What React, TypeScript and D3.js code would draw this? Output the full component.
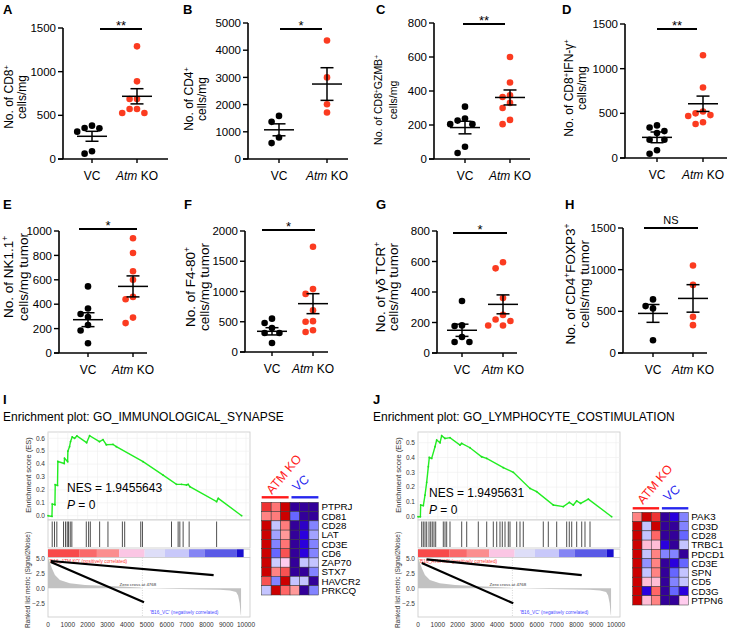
import React from "react";
import * as d3 from "d3";

const FONT = "'Liberation Sans', Arial, Helvetica, sans-serif";
const W = 736, H = 636;

const categories = ["VC", "Atm KO"];

// ---- scatter data (cells/mg) ----
const vcA = [382, 355, 351, 313, 88, 61];
const koA = [1290, 889, 687, 687, 572, 572, 527, 527];
const meanA = [260, 718];
const semA = [57, 87];

const vcB = [1585, 1366, 793, 585];
const koB = [4354, 3000, 2012, 1707];
const meanB = [1073, 2756];
const semB = [220, 600];

const vcC = [308, 238, 226, 205, 205, 72, 35];
const koC = [600, 450, 375, 365, 330, 300, 230, 205];
const meanC = [185, 362];
const semC = [37, 44];

const vcD = [365, 342, 301, 279, 205, 205, 86, 48];
const koD = [1150, 790, 520, 500, 480, 470, 400, 380];
const meanD = [231, 607];
const semD = [60, 86];

const vcE = [546, 365, 320, 295, 230, 185, 80];
const koE = [940, 820, 670, 600, 460, 440, 290, 245];
const meanE = [273, 546];
const semE = [57, 86];

const vcF = [551, 479, 397, 314, 314, 149];
const koF = [1740, 1040, 960, 690, 510, 500, 360, 330];
const meanF = [342, 799];
const semF = [60, 165];

const vcG = [341, 181, 177, 105, 72, 72];
const koG = [595, 555, 360, 250, 220, 210, 180, 180];
const meanG = [149, 319];
const semG = [40, 62];

const vcH = [643, 563, 535, 153];
const koH = [1050, 817, 434, 334];
const meanH = [475, 655];
const semH = [107, 165];

// ---- GSEA data ----
const esI = [[0,0],[200,-0.005],[215,0.09],[350,0.085],[365,0.24],[480,0.235],[498,0.42],[820,0.405],[835,0.445],[990,0.42],[1004,0.5],[1088,0.535],[1139,0.575],[1224,0.61],[1342,0.6],[1460,0.618],[1950,0.566],[2101,0.62],[2600,0.574],[2776,0.59],[2945,0.55],[3283,0.553],[3451,0.535],[4802,0.419],[5814,0.315],[6490,0.243],[6743,0.243],[6996,0.238],[7080,0.243],[7165,0.225],[8515,0.109],[8600,0.134],[9780,0]];
const hitsI = [213,329,446,785,886,972,1038,1124,1205,1934,2051,2137,2608,3028,3757,3873,4684,4770,6238,6572,6658,6825,7129,8516];
const metricI = [[0,5.0],[60,4.6],[200,3.3],[350,2.2],[600,1.4],[1100,0.83],[1870,0.55],[3130,0.38],[4650,0.12],[4768,0],[6670,-0.12],[8690,-0.25],[9190,-0.35],[9500,-0.6],[9600,-1.2],[9680,-2.5],[9730,-4.3],[9750,-4.6]];
const blackLinesI = [[[140,4.55],[8365,2.2]],[[140,4.4],[4850,-2.33]]];

const esJ = [[0,0],[120,0.0],[135,0.079],[269,0.075],[354,0.146],[438,0.232],[522,0.338],[572,0.40],[690,0.394],[859,0.473],[943,0.518],[1111,0.5],[1195,0.547],[1364,0.529],[1616,0.534],[2121,0.484],[2205,0.495],[2626,0.466],[3215,0.405],[3468,0.394],[4310,0.331],[4815,0.30],[5657,0.191],[5993,0.169],[6835,0.079],[7340,0.068],[7643,0.097],[7845,0.079],[8013,0.106],[8215,0.09],[8603,0.119],[9781,0]];
const hitsJ = [187,268,354,439,556,641,722,808,894,1278,1364,1449,1616,2207,2460,3045,3470,3803,3975,4141,4258,4394,4561,4646,4985,5152,5318,6328,6581,7005,7510,7641,7763,8015,8268,8434,8687];
const metricJ = [[0,5.0],[60,4.6],[200,3.3],[350,2.2],[600,1.4],[1100,0.85],[1870,0.55],[3130,0.36],[4650,0.1],[4768,0],[6670,-0.12],[8690,-0.25],[9190,-0.35],[9500,-0.6],[9600,-1.2],[9680,-2.5],[9730,-4.3],[9750,-4.6]];
const blackLinesJ = [[[430,4.82],[8270,2.2]],[[190,4.2],[4810,-2.5]]];

const colorbarStops = [0,1600,2470,3590,4880,5910,7120,7900,9540,9880];
const colorbarColors = ["#f84a4a","#fa6a6a","#fb8e8e","#fbc6e4","#dedef8","#c8c8fa","#8585f4","#5a5ae6","#1a10cf"];

// ---- heatmap data ----
const genesI = ["PTPRJ","CD81","CD28","LAT","CD3E","CD6","ZAP70","STX7","HAVCR2","PRKCQ"];
const heatI = [
  [2.3,1.6,3,-3,-3,-3],
  [1.4,1.5,3,-1.7,-3,-3],
  [3,-0.5,1.5,-3,-2.6,-1.3],
  [3,-0.9,1.1,-3,-2.4,-0.9],
  [3,-1.3,1.6,-3,-2.4,-1.3],
  [3,-1.7,2,-3,-2.4,-1.3],
  [3,-0.4,0.4,-3,-0.5,-0.5],
  [3,1.4,2,-3,-3,-1.3],
  [2,-1.3,3,-0.5,-0.5,-3],
  [-0.5,3,1.8,1.1,-3,-1.3],
];
const genesJ = ["PAK3","CD3D","CD28","TRBC1","PDCD1","CD3E","SPN","CD5","CD3G","PTPN6"];
const heatJ = [
  [1.4,3,2.3,-3,-2.4,-1.3],
  [3,-0.5,3,-3,-3,-1.3],
  [3,-0.5,1.8,-3,-3,-1.7],
  [3,0.6,0.6,-2.4,-3,-0.5],
  [3,-0.5,1.4,-1.3,-1.3,-3],
  [3,-1.1,1.4,-3,-2.4,-1.7],
  [3,-0.5,1.4,-3,-1.7,-0.5],
  [3,0.6,0.6,-3,-1.3,-0.5],
  [3,-2.4,1.8,-3,-1.7,-2.4],
  [3,0.6,1.4,-3,-3,0.4],
];

const heatColor = d3.scaleLinear<string>()
  .domain([-3,-2.4,-1.7,-1,-0.4,0.4,1.1,1.8,2.3,3])
  .range(["#330099","#2a00dd","#6666ff","#9999ff","#ccccff","#ffccee","#ff9999","#ff6666","#ee3333","#cc0000"])
  .clamp(true);

// ---- layout ----
const panels = [
  { id:"A", vc:vcA, ko:koA, mean:meanA, sem:semA, max:1500, step:500, ax:63, top:28, bot:159, cx:[92,137], xEnd:168, sig:[100,142,29], sigText:"**", letter:[3,13.5], t1:"No. of CD8^+", t2:"cells/mg", tx:[8.5,22], ty:97, tfs:12 },
  { id:"B", vc:vcB, ko:koB, mean:meanB, sem:semB, max:5000, step:1000, ax:248, top:23, bot:159, cx:[279,327], xEnd:348, sig:[280,322,29], sigText:"*", letter:[183,13.5], t1:"No. of CD4^+", t2:"cells/mg", tx:[188.5,202], ty:99, tfs:12 },
  { id:"C", vc:vcC, ko:koC, mean:meanC, sem:semC, max:800, step:200, ax:434, top:23, bot:159, cx:[465,510], xEnd:530, sig:[463,505,24], sigText:"**", letter:[376,13.5], t1:"No. of CD8^+^GZMB^+", t2:"cells/mg", tx:[378.5,393], ty:100, tfs:10.5 },
  { id:"D", vc:vcD, ko:koD, mean:meanD, sem:semD, max:1500, step:500, ax:625, top:24, bot:158, cx:[657,703], xEnd:727, sig:[657,697,29], sigText:"**", letter:[562,13.5], t1:"No. of CD8^+^IFN-γ^+", t2:"cells/mg", tx:[568.5,582], ty:88, tfs:12 },
  { id:"E", vc:vcE, ko:koE, mean:meanE, sem:semE, max:1000, step:200, ax:59, top:231, bot:353, cx:[88,133], xEnd:147, sig:[79,137,229], sigText:"*", letter:[3,208.5], t1:"No. of NK1.1^+", t2:"cells/mg tumor", tx:[8.5,23], ty:277, tfs:13.5 },
  { id:"F", vc:vcF, ko:koF, mean:meanF, sem:semF, max:2000, step:500, ax:245, top:231, bot:352, cx:[272,313], xEnd:328, sig:[262,315,230], sigText:"*", letter:[184,208.5], t1:"No. of F4-80^+", t2:"cells/mg tumor", tx:[190,204], ty:287, tfs:13.5 },
  { id:"G", vc:vcG, ko:koG, mean:meanG, sem:semG, max:800, step:200, ax:437, top:231, bot:353, cx:[462,503], xEnd:517, sig:[453,507,233], sigText:"*", letter:[376,208.5], t1:"No. of γδ TCR^+", t2:"cells/mg tumor", tx:[380,393.5], ty:287, tfs:13.5 },
  { id:"H", vc:vcH, ko:koH, mean:meanH, sem:semH, max:1500, step:500, ax:623, top:228, bot:353, cx:[653,693], xEnd:707, sig:[644,698,228], sigText:"NS", letter:[565,208.5], t1:"No. of CD4^+^FOXP3^+", t2:"cells/mg tumor", tx:[570,584], ty:284, tfs:13.5 },
];

const gseas = [
  { id:"I", ox:48, es:esI, hits:hitsI, metric:metricI, lines:blackLinesI, esTickMax:0.6, esZero:515.7, esTickPx:438.3, nes:"NES = 1.9455643",
    title:"Enrichment plot: GO_IMMUNOLOGICAL_SYNAPSE", tX:3, nesX:67, nesY:492, posLabel:"'B16_ATM KO' (positively correlated)" },
  { id:"J", ox:418, es:esJ, hits:hitsJ, metric:metricJ, lines:blackLinesJ, esTickMax:0.5, esZero:516.7, esTickPx:442.7, nes:"NES = 1.9495631",
    title:"Enrichment plot: GO_LYMPHOCYTE_COSTIMULATION", tX:373, nesX:429, nesY:497, posLabel:"'B16_ATM KO' (positively correlated)" },
];

const heatmaps = [
  { genes:genesI, data:heatI, x0:261.7, y0:502.3, cw:9.45, ch:9.27, lineY:497.3, koText:[272,495], vcText:[297,492] },
  { genes:genesJ, data:heatJ, x0:632.7, y0:512.3, cw:9.27, ch:9.27, lineY:508.3, koText:[643,505], vcText:[668,502] },
];

function richText(s: string, fs: number) {
  const parts = s.split("^");
  return parts.map((p, i) =>
    i % 2 === 1 ? (
      <tspan key={i} fontSize={fs * 0.62} baselineShift="super">{p}</tspan>
    ) : (
      <tspan key={i}>{p}</tspan>
    )
  );
}

function swarm(vals: number[], cx: number, y: (v: number) => number, r: number) {
  const d = 2 * r + 0.8;
  const placed: [number, number][] = [];
  const out: [number, number][] = [];
  vals.forEach((v) => {
    const py = y(v);
    for (let k = 0; k < 30; k++) {
      const off = k === 0 ? 0 : (k % 2 ? -1 : 1) * Math.ceil(k / 2) * d;
      const px = cx + off;
      if (placed.every((p) => Math.hypot(p[0] - px, p[1] - py) >= d)) {
        placed.push([px, py]);
        out.push([px, py]);
        break;
      }
    }
  });
  return out;
}

function ScatterPanel({ p }: any) {
  const y = d3.scaleLinear().domain([0, p.max]).range([p.bot, p.top]);
  const x = d3.scalePoint<string>().domain(categories).range(p.cx);
  const ticks = d3.range(0, p.max + 1, p.step);
  const r = 3.3;
  const groups = [p.vc, p.ko];
  const cols = ["#000000", "#fb3b20"];
  return (
    <g fontFamily={FONT}>
      <text x={p.letter[0]} y={p.letter[1]} fontWeight="bold" fontSize={13}>{p.id}</text>
      <line x1={p.ax} x2={p.ax} y1={p.top} y2={p.bot} stroke="#000" strokeWidth={1.6} />
      <line x1={p.ax - 5} x2={p.xEnd} y1={p.bot} y2={p.bot} stroke="#000" strokeWidth={1.6} />
      {ticks.map((t: number) => (
        <g key={t}>
          <line x1={p.ax - 5} x2={p.ax} y1={y(t)} y2={y(t)} stroke="#000" strokeWidth={1.4} />
          <text x={p.ax - 7} y={y(t)} dy="0.36em" textAnchor="end" fontSize={11.5}>{t}</text>
        </g>
      ))}
      {categories.map((c, i) => (
        <g key={c}>
          <line x1={x(c)} x2={x(c)} y1={p.bot} y2={p.bot + 4} stroke="#000" strokeWidth={1.4} />
          <text x={x(c)} y={p.bot + 20.5} textAnchor="middle" fontSize={12}>
            {i === 0 ? "VC" : (<><tspan fontStyle="italic">Atm</tspan> KO</>)}
          </text>
        </g>
      ))}
      <g transform={`translate(${p.tx[0]},${p.ty}) rotate(-90)`}>
        <text textAnchor="middle" dy="0.35em" fontSize={p.tfs}>{richText(p.t1, p.tfs)}</text>
      </g>
      <g transform={`translate(${p.tx[1]},${p.ty}) rotate(-90)`}>
        <text textAnchor="middle" dy="0.35em" fontSize={p.tfs}>{richText(p.t2, p.tfs)}</text>
      </g>
      <line x1={p.sig[0]} x2={p.sig[1]} y1={p.sig[2]} y2={p.sig[2]} stroke="#000" strokeWidth={1.8} />
      <text x={(p.sig[0] + p.sig[1]) / 2} y={p.sig[2] - (p.sigText === "NS" ? 4.5 : -1)} textAnchor="middle" fontSize={p.sigText === "NS" ? 11 : 13}>{p.sigText}</text>
      {groups.map((g: number[], gi: number) => {
        const cx = x(categories[gi]) as number;
        const pts = swarm(g, cx, y, r);
        const m = p.mean[gi], s = p.sem[gi];
        return (
          <g key={gi}>
            {pts.map((pt, k) => (
              <circle key={k} cx={pt[0]} cy={pt[1]} r={r} fill={cols[gi]} />
            ))}
            <line x1={cx - 15} x2={cx + 15} y1={y(m)} y2={y(m)} stroke="#000" strokeWidth={1.5} />
            <line x1={cx} x2={cx} y1={y(m + s)} y2={y(m - s)} stroke="#000" strokeWidth={1.5} />
            <line x1={cx - 6.5} x2={cx + 6.5} y1={y(m + s)} y2={y(m + s)} stroke="#000" strokeWidth={1.5} />
            <line x1={cx - 6.5} x2={cx + 6.5} y1={y(m - s)} y2={y(m - s)} stroke="#000" strokeWidth={1.5} />
          </g>
        );
      })}
    </g>
  );
}

function GseaPanel({ g }: any) {
  const ox = g.ox;
  const L = ox, R = ox + 202;
  const x = d3.scaleLinear().domain([0, 10000]).range([ox, ox + 198]);
  const esY = d3.scaleLinear().domain([0, g.esTickMax]).range([g.esZero, g.esTickPx]);
  const T0 = 432, T1 = 520, H1 = 548, C0 = 549.3, C1 = 557.5, B1 = 617;
  const mY = d3.scaleLinear().domain([0, 5]).range([588.3, 558.3]);
  const esLine = d3.line<number[]>().x((d) => x(d[0])).y((d) => esY(d[1]));
  const area = d3.area<number[]>().x((d) => x(d[0])).y0(mY(0)).y1((d) => mY(d[1]));
  const esTicks = d3.range(0, g.esTickMax + 0.001, 0.1);
  const xTicks = d3.range(0, 10001, 1000);
  const gridX = d3.range(0, 10001, 500);
  const fmt = d3.format(".1f");
  return (
    <g fontFamily={FONT}>
      <text x={g.tX} y={404} fontWeight="bold" fontSize={13}>{g.id}</text>
      <text x={g.tX} y={421} fontSize={12}>{g.title}</text>
      {/* ES panel */}
      <rect x={L} y={T0} width={R - L} height={T1 - T0} fill="#fff" stroke="#c9c9c9" strokeWidth={0.8} />
      {gridX.map((t) => (
        <line key={"gx" + t} x1={x(t)} x2={x(t)} y1={T0} y2={T1} stroke="#eeeeee" strokeWidth={0.6} />
      ))}
      {esTicks.map((t) => (
        <line key={"gy" + t} x1={L} x2={R} y1={esY(t)} y2={esY(t)} stroke="#eeeeee" strokeWidth={0.6} />
      ))}
      {esTicks.map((t) => (
        <text key={"et" + t} x={L - 3} y={esY(t)} dy="0.35em" textAnchor="end" fontSize={6.5} fill="#333">{fmt(t)}</text>
      ))}
      <path d={esLine(g.es) || ""} fill="none" stroke="#22ee22" strokeWidth={1.4} />
      {g.es.map((d: number[], i: number) => (
        <circle key={"ep" + i} cx={x(d[0])} cy={esY(d[1])} r={0.9} fill="#22dd22" />
      ))}
      <text x={g.nesX} y={g.nesY} fontSize={12}>{g.nes}</text>
      <text x={g.nesX} y={g.nesY + 17} fontSize={12}><tspan fontStyle="italic">P</tspan> = 0</text>
      {/* hits */}
      <rect x={L} y={T1} width={R - L} height={H1 - T1} fill="#fff" stroke="#c9c9c9" strokeWidth={0.8} />
      {g.hits.map((h: number, i: number) => (
        <line key={"h" + i} x1={x(h)} x2={x(h)} y1={T1 + 1.5} y2={H1 - 1} stroke="#222" strokeWidth={0.8} />
      ))}
      {/* colorbar */}
      <rect x={L} y={C0} width={R - L} height={C1 - C0} fill="#fff" stroke="#c9c9c9" strokeWidth={0.6} />
      {colorbarColors.map((c, i) => (
        <rect key={"cb" + i} x={x(colorbarStops[i])} y={C0} width={x(colorbarStops[i + 1]) - x(colorbarStops[i])} height={C1 - C0} fill={c} />
      ))}
      {/* ranked list */}
      <rect x={L} y={C1} width={R - L} height={B1 - C1} fill="#fff" stroke="#c9c9c9" strokeWidth={0.8} />
      <path d={area(g.metric) || ""} fill="#c2c2c2" />
      <line x1={x(4768)} x2={x(4768)} y1={C1} y2={B1} stroke="#bbb" strokeWidth={0.6} strokeDasharray="1,1.5" />
      {[5, 2.5, 0, -2.5].map((t) => (
        <text key={"mt" + t} x={L - 3} y={mY(t)} dy="0.35em" textAnchor="end" fontSize={6.5} fill="#333">{fmt(t)}</text>
      ))}
      <text x={x(60)} y={562.5} fontSize={4.8} fill="#ff3b3b">{g.posLabel}</text>
      <text x={x(4768) - 4.5} y={586} fontSize={4.4} textAnchor="middle" fill="#333">Zero cross at 4768</text>
      <text x={x(5150)} y={613.5} fontSize={4.8} fill="#4b4bff">'B16_VC' (negatively correlated)</text>
      {g.lines.map((ln: number[][], i: number) => (
        <line key={"bl" + i} x1={x(ln[0][0])} y1={mY(ln[0][1])} x2={x(ln[1][0])} y2={mY(ln[1][1])} stroke="#000" strokeWidth={2.2} />
      ))}
      {xTicks.map((t) => (
        <text key={"xt" + t} x={x(t)} y={626.5} textAnchor="middle" fontSize={6.5} fill="#333">{t}</text>
      ))}
      <g transform={`translate(${L - 20},475) rotate(-90)`}>
        <text textAnchor="middle" dy="0.35em" fontSize={7.5} fill="#333">Enrichment score (ES)</text>
      </g>
      <g transform={`translate(${L - 20},580) rotate(-90)`}>
        <text textAnchor="middle" dy="0.35em" fontSize={6.5} fill="#333">Ranked list metric (Signal2Noise)</text>
      </g>
    </g>
  );
}

function Heatmap({ h }: any) {
  const xs = d3.scaleLinear().domain([0, 6]).range([h.x0, h.x0 + 6 * h.cw]);
  const ys = d3.scaleLinear().domain([0, h.genes.length]).range([h.y0, h.y0 + h.genes.length * h.ch]);
  return (
    <g fontFamily={FONT}>
      {h.data.map((row: number[], ri: number) =>
        row.map((v: number, ci: number) => (
          <rect key={ri + "-" + ci} x={xs(ci)} y={ys(ri)} width={h.cw} height={h.ch} fill={heatColor(v)} stroke="#333" strokeWidth={0.5} />
        ))
      )}
      {h.genes.map((gname: string, i: number) => (
        <text key={gname} x={xs(6) + 3} y={ys(i) + h.ch / 2} dy="0.36em" fontSize={9.8}>{gname}</text>
      ))}
      <line x1={xs(0)} x2={xs(2.85)} y1={h.lineY} y2={h.lineY} stroke="#ff1a1a" strokeWidth={2.4} />
      <line x1={xs(3.15)} x2={xs(6)} y1={h.lineY} y2={h.lineY} stroke="#2626ee" strokeWidth={2.4} />
      <text transform={`translate(${h.koText[0]},${h.koText[1]}) rotate(-50)`} fontSize={12.5} fill="#ff1a1a">ATM KO</text>
      <text transform={`translate(${h.vcText[0]},${h.vcText[1]}) rotate(-42)`} fontSize={12.5} fill="#2626ee">VC</text>
    </g>
  );
}

export default function App() {
  return (
    <svg width={W} height={H} viewBox={`0 0 ${W} ${H}`} style={{ position: "absolute", left: 0, top: 0, background: "#fff" }}>
      <rect width={W} height={H} fill="#fff" />
      {panels.map((p) => (
        <ScatterPanel key={p.id} p={p} />
      ))}
      {gseas.map((g) => (
        <GseaPanel key={g.id} g={g} />
      ))}
      {heatmaps.map((h, i) => (
        <Heatmap key={i} h={h} />
      ))}
    </svg>
  );
}
